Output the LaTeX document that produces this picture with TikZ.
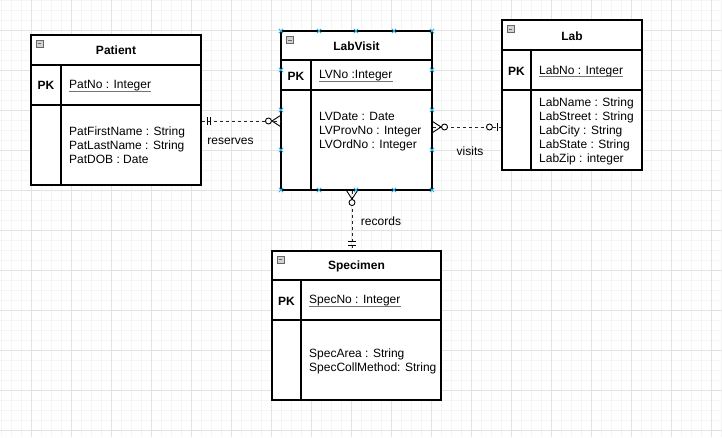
\documentclass[tikz,border=0pt]{standalone}
\usepackage{fontspec}
\setmainfont{Liberation Sans}
\definecolor{handleblue}{RGB}{41,170,225}

\tikzset{
  pics/mandone/.style={code={
      \draw[line width=0.9pt] (5.5,-4) -- (5.5,4);
      \draw[line width=0.9pt] (9,-4) -- (9,4);}},
  pics/zeromany/.style={code={
      \draw[line width=0.9pt] (0,-5.5) -- (8.5,0) -- (0,5.5);
      \draw[line width=0.9pt,fill=white] (12,0) circle[radius=3pt];}},
  pics/zeroone/.style={code={
      \draw[line width=0.9pt] (4.5,-4) -- (4.5,4);
      \draw[line width=0.9pt,fill=white] (12,0) circle[radius=3pt];}},
}

\begin{document}
\begin{tikzpicture}[x=1pt,y=-1pt,
    minorgrid/.style={draw=black!4,line width=0.5pt},
    majorgrid/.style={draw=black!11,line width=0.6pt},
    entity/.style={draw,fill=white,line width=1.1pt,inner sep=0pt},
    sep/.style={line width=1.1pt},
    ttl/.style={font=\fontsize{12}{14}\selectfont\bfseries},
    pk/.style={font=\fontsize{12}{14}\selectfont\bfseries},
    key/.style={font=\fontsize{12}{14}\selectfont,anchor=west,inner sep=0pt},
    attr/.style={font=\fontsize{12}{14}\selectfont,anchor=west,align=left,inner sep=0pt},
    uline/.style={draw=black!55,line width=0.7pt},
    minbtn/.style={draw=black!60,fill=black!18,minimum size=7pt,inner sep=0pt,line width=0.6pt,
      path picture={\draw[line width=1pt] ([xshift=1.6pt]path picture bounding box.west) -- ([xshift=-1.6pt]path picture bounding box.east);}},
    lbl/.style={font=\fontsize{12}{14}\selectfont},
    rel/.style={draw=black!85,line width=0.9pt,dash pattern=on 3pt off 3pt},
    handle/.style={draw=handleblue,line width=0.8pt}]
  \useasboundingbox (0,0) rectangle (722,437);

  % background grid
  \foreach \gx in {1,11,...,721} \draw[minorgrid] (\gx,0) -- (\gx,437);
  \foreach \gy in {0,10,...,430} \draw[minorgrid] (0,\gy) -- (722,\gy);
  \foreach \gx in {31,71,...,711} \draw[majorgrid] (\gx,0) -- (\gx,437);
  \foreach \gy in {30,70,...,430} \draw[majorgrid] (0,\gy) -- (722,\gy);

  % Patient
  \node[entity,minimum width=170pt,minimum height=150pt] (pat) at (116,110) {};
  \draw[sep] (pat.west |- 0,65) -- (pat.east |- 0,65);
  \draw[sep] (pat.west |- 0,105) -- (pat.east |- 0,105);
  \draw[sep] (61,65) -- (pat.south -| 61,0);
  \node[minbtn] (patM) at (39.5,43.5) {};
  \node[ttl] (patT) at (116,50.5) {Patient};
  \node[pk] (patP) at (46,85.5) {PK};
  \node[key] (patK) at (69,85.5) {PatNo : Integer};
  \draw[uline] ([yshift=-2.5pt]patK.base west) -- ([yshift=-2.5pt]patK.base east);
  \node[attr] (patA) at (69,145.5) {PatFirstName : String\\PatLastName : String\\PatDOB : Date};

  % LabVisit
  \node[entity,minimum width=151pt,minimum height=159pt] (lv) at (356.5,110.5) {};
  \draw[sep] (lv.west |- 0,60) -- (lv.east |- 0,60);
  \draw[sep] (lv.west |- 0,90) -- (lv.east |- 0,90);
  \draw[sep] (311,60) -- (lv.south -| 311,0);
  \node[minbtn] (lvM) at (290,40) {};
  \node[ttl] (lvT) at (356.5,46) {LabVisit};
  \node[pk] (lvP) at (296,76) {PK};
  \node[key] (lvK) at (319,76) {LVNo :Integer};
  \draw[uline] ([yshift=-2.5pt]lvK.base west) -- ([yshift=-2.5pt]lvK.base east);
  \node[attr] (lvA) at (319,131.5) {LVDate : Date\\LVProvNo : Integer\\LVOrdNo : Integer};

  % Lab
  \node[entity,minimum width=140pt,minimum height=150pt] (lab) at (572,95) {};
  \draw[sep] (lab.west |- 0,50) -- (lab.east |- 0,50);
  \draw[sep] (lab.west |- 0,90) -- (lab.east |- 0,90);
  \draw[sep] (531,50) -- (lab.south -| 531,0);
  \node[minbtn] (labM) at (510.5,29) {};
  \node[ttl] (labT) at (572,36) {Lab};
  \node[pk] (labP) at (516.5,71) {PK};
  \node[key] (labK) at (539,71) {LabNo : Integer};
  \draw[uline] ([yshift=-2.5pt]labK.base west) -- ([yshift=-2.5pt]labK.base east);
  \node[attr] (labA) at (539,131.5) {LabName : String\\LabStreet : String\\LabCity : String\\LabState : String\\LabZip : integer};

  % Specimen
  \node[entity,minimum width=169pt,minimum height=149pt] (spec) at (356.5,325.5) {};
  \draw[sep] (spec.west |- 0,280) -- (spec.east |- 0,280);
  \draw[sep] (spec.west |- 0,320) -- (spec.east |- 0,320);
  \draw[sep] (301,280) -- (spec.south -| 301,0);
  \node[minbtn] (specM) at (280.5,259.5) {};
  \node[ttl] (specT) at (356.5,266) {Specimen};
  \node[pk] (specP) at (286.5,301) {PK};
  \node[key] (specK) at (309,301) {SpecNo : Integer};
  \draw[uline] ([yshift=-2.5pt]specK.base west) -- ([yshift=-2.5pt]specK.base east);
  \node[attr] (specA) at (309,361.5) {SpecArea : String\\SpecCollMethod: String};

  % relationships
  \draw[rel] (pat.east |- 0,121) -- (lv.west |- 0,121);
  \pic at (pat.east |- 0,121) {mandone};
  \pic[rotate=180] at (lv.west |- 0,121) {zeromany};
  \node[lbl] (reserves) at (230.5,141.5) {reserves};

  \draw[rel] (lv.east |- 0,127) -- (lab.west |- 0,127);
  \pic at (lv.east |- 0,127) {zeromany};
  \pic[rotate=180] at (lab.west |- 0,127) {zeroone};
  \node[lbl] (visits) at (470,151) {visits};

  \draw[rel] (lv.south -| 352,0) -- (spec.north -| 352,0);
  \pic[rotate=-90] at (lv.south -| 352,0) {zeromany};
  \pic[rotate=90] at (spec.north -| 352,0) {mandone};
  \node[lbl] (records) at (381,221) {records};

  % selection handles of LabVisit
  \foreach \hx in {281,319,356,394,432}
    \foreach \hy in {31,190}
      \draw[handle] (\hx,\hy) ++(-2.2,-2.2) -- ++(4.4,4.4) ++(0,-4.4) -- ++(-4.4,4.4);
  \foreach \hx in {281,432}
    \foreach \hy in {70,110,150}
      \draw[handle] (\hx,\hy) ++(-2.2,-2.2) -- ++(4.4,4.4) ++(0,-4.4) -- ++(-4.4,4.4);
\end{tikzpicture}
\end{document}
